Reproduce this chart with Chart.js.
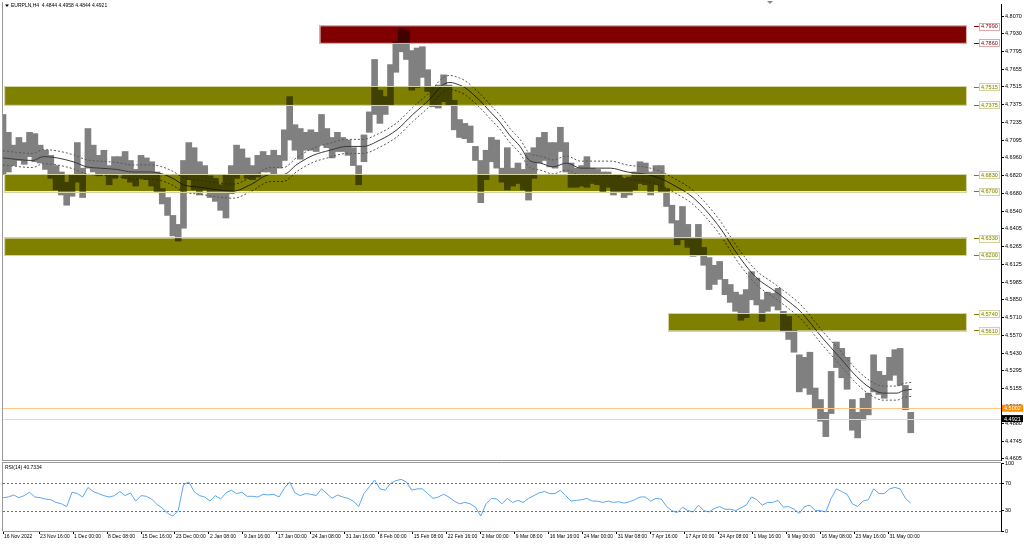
<!DOCTYPE html>
<html>
<head>
<meta charset="utf-8">
<script src="https://cdn.jsdelivr.net/npm/chart.js@4.4.0/dist/chart.umd.min.js"></script>
<style>
  html, body { margin: 0; padding: 0; background: #fff; }
  #wrap { position: relative; width: 1024px; height: 544px; overflow: hidden; background: #fff; }
  #wrap canvas { position: absolute; left: 0; }
  #price { top: 0; }
  #rsi { top: 456px; }
</style>
</head>
<body>
<div id="wrap">
  <canvas id="price" width="1024" height="462"></canvas>
  <canvas id="rsi" width="1024" height="88"></canvas>
</div>
<script>
// EURPLN H4 - price columns are 5 bars wide (bar index = column * BIN)
const BIN = 5;
const X_MAX = 940;

const priceHigh = [
  4.730, 4.716, 4.706, 4.712, 4.708, 4.716, 4.715, 4.706, 4.702, 4.698,
  4.690, 4.685, 4.677, 4.683, 4.708, 4.688, 4.719, 4.706, 4.698, 4.702,
  4.690, 4.697, 4.697, 4.701, 4.694, 4.687, 4.698, 4.696, 4.693, 4.685,
  4.672, 4.665, 4.651, 4.644, 4.694, 4.708, 4.704, 4.693, 4.690, 4.682,
  4.680, 4.675, 4.683, 4.690, 4.706, 4.703, 4.696, 4.690, 4.698, 4.701,
  4.698, 4.702, 4.698, 4.718, 4.744, 4.722, 4.719, 4.716, 4.718, 4.716,
  4.730, 4.719, 4.712, 4.716, 4.712, 4.710, 4.704, 4.690, 4.714, 4.732,
  4.773, 4.749, 4.744, 4.769, 4.787, 4.797, 4.796, 4.780, 4.782, 4.783,
  4.765, 4.752, 4.753, 4.761, 4.753, 4.741, 4.726, 4.723, 4.721, 4.705,
  4.694, 4.702, 4.712, 4.710, 4.688, 4.704, 4.688, 4.692, 4.687, 4.700,
  4.704, 4.712, 4.716, 4.708, 4.708, 4.720, 4.708, 4.692, 4.688, 4.690,
  4.697, 4.688, 4.687, 4.685, 4.685, 4.683, 4.683, 4.680, 4.681, 4.685,
  4.693, 4.692, 4.685, 4.690, 4.690, 4.672, 4.659, 4.647, 4.658, 4.644,
  4.633, 4.644, 4.626, 4.618, 4.612, 4.615, 4.601, 4.597, 4.591, 4.589,
  4.593, 4.607, 4.602, 4.585, 4.591, 4.590, 4.594, 4.576, 4.572, 4.561,
  4.542, 4.540, 4.544, 4.516, 4.507, 4.497, 4.529, 4.552, 4.547, 4.540,
  4.507, 4.497, 4.508, 4.512, 4.542, 4.529, 4.526, 4.540, 4.546, 4.547,
  4.518, 4.497
];
const priceLow = [
  4.683, 4.685, 4.690, 4.694, 4.691, 4.697, 4.693, 4.692, 4.687, 4.680,
  4.671, 4.667, 4.659, 4.666, 4.677, 4.665, 4.688, 4.685, 4.682, 4.683,
  4.675, 4.680, 4.683, 4.680, 4.677, 4.674, 4.680, 4.679, 4.674, 4.669,
  4.660, 4.651, 4.635, 4.631, 4.641, 4.679, 4.671, 4.667, 4.671, 4.665,
  4.662, 4.655, 4.649, 4.668, 4.680, 4.683, 4.680, 4.679, 4.681, 4.685,
  4.685, 4.683, 4.688, 4.694, 4.710, 4.702, 4.695, 4.702, 4.702, 4.701,
  4.706, 4.704, 4.696, 4.701, 4.701, 4.698, 4.690, 4.675, 4.693, 4.716,
  4.730, 4.723, 4.730, 4.737, 4.763, 4.779, 4.773, 4.749, 4.751, 4.759,
  4.748, 4.736, 4.735, 4.740, 4.737, 4.718, 4.712, 4.711, 4.708, 4.694,
  4.661, 4.679, 4.693, 4.688, 4.677, 4.671, 4.674, 4.676, 4.671, 4.663,
  4.680, 4.692, 4.694, 4.689, 4.688, 4.701, 4.685, 4.673, 4.673, 4.674,
  4.673, 4.676, 4.675, 4.669, 4.673, 4.667, 4.669, 4.665, 4.667, 4.671,
  4.676, 4.675, 4.667, 4.675, 4.669, 4.658, 4.645, 4.628, 4.632, 4.626,
  4.619, 4.620, 4.612, 4.593, 4.597, 4.601, 4.589, 4.583, 4.576, 4.569,
  4.571, 4.585, 4.581, 4.568, 4.576, 4.580, 4.577, 4.560, 4.554, 4.544,
  4.513, 4.516, 4.511, 4.500, 4.490, 4.478, 4.496, 4.532, 4.524, 4.515,
  4.483, 4.477, 4.491, 4.495, 4.513, 4.511, 4.508, 4.522, 4.526, 4.518,
  4.499, 4.481
];

// moving average with its envelope band
const maBars = [
  0, 28, 38, 51, 66, 79, 91, 107, 122, 138, 148, 160, 170, 186, 202, 217, 233, 252, 264, 277,
  292, 308, 324, 339, 355, 371, 386, 402, 414, 421, 430, 435, 449, 459, 468, 477, 487, 496, 506, 518,
  531, 544, 572, 588, 607, 619, 631, 650, 673, 694, 710, 725, 741, 751, 772, 788, 804, 817, 829, 842,
  848, 856
];
const maValues = [
  4.696, 4.694, 4.697, 4.696, 4.693, 4.689, 4.688, 4.687, 4.685, 4.685, 4.684, 4.680, 4.675, 4.673, 4.671, 4.670, 4.675, 4.683, 4.683, 4.691,
  4.698, 4.702, 4.705, 4.705, 4.710, 4.718, 4.730, 4.742, 4.753, 4.755, 4.753, 4.751, 4.741, 4.732, 4.724, 4.714, 4.705, 4.694, 4.692, 4.689,
  4.692, 4.688, 4.688, 4.685, 4.683, 4.680, 4.675, 4.665, 4.644, 4.618, 4.602, 4.593, 4.583, 4.576, 4.555, 4.540, 4.525, 4.516, 4.512, 4.512,
  4.514, 4.515
];
const envUpper = [
  4.7015, 4.6995, 4.7025, 4.7015, 4.6985, 4.6945, 4.6935, 4.6925, 4.6905, 4.6905, 4.6895, 4.6855, 4.6805, 4.6785, 4.6765, 4.6755, 4.6805, 4.6885, 4.6885, 4.6965,
  4.7035, 4.7075, 4.7105, 4.7105, 4.7155, 4.7235, 4.7355, 4.7475, 4.7585, 4.7605, 4.7585, 4.7565, 4.7465, 4.7375, 4.7295, 4.7195, 4.7105, 4.6995, 4.6975, 4.6945,
  4.6975, 4.6935, 4.6935, 4.6905, 4.6885, 4.6855, 4.6805, 4.6705, 4.6495, 4.6235, 4.6075, 4.5985, 4.5885, 4.5815, 4.5605, 4.5455, 4.5305, 4.5215, 4.5175, 4.5175,
  4.5195, 4.5205
];
const envLower = [
  4.6905, 4.6885, 4.6915, 4.6905, 4.6875, 4.6835, 4.6825, 4.6815, 4.6795, 4.6795, 4.6785, 4.6745, 4.6695, 4.6675, 4.6655, 4.6645, 4.6695, 4.6775, 4.6775, 4.6855,
  4.6925, 4.6965, 4.6995, 4.6995, 4.7045, 4.7125, 4.7245, 4.7365, 4.7475, 4.7495, 4.7475, 4.7455, 4.7355, 4.7265, 4.7185, 4.7085, 4.6995, 4.6885, 4.6865, 4.6835,
  4.6865, 4.6825, 4.6825, 4.6795, 4.6775, 4.6745, 4.6695, 4.6595, 4.6385, 4.6125, 4.5965, 4.5875, 4.5775, 4.5705, 4.5495, 4.5345, 4.5195, 4.5105, 4.5065, 4.5065,
  4.5085, 4.5095
];

// RSI(14), one value per price column
const rsiValues = [
  49, 50, 53, 49, 52, 57, 50, 49, 47, 46, 42, 40, 36, 57, 55, 50, 64, 58, 55, 52,
  50, 52, 58, 52, 56, 44, 52, 51, 47, 39, 34, 26, 22, 30, 68, 72, 58, 52, 50, 44,
  52, 47, 56, 60, 55, 57, 51, 51, 50, 54, 53, 54, 50, 63, 72, 56, 52, 55, 54, 52,
  62, 55, 48, 53, 50, 48, 44, 36, 55, 65, 75, 62, 60, 70, 74, 76, 72, 60, 62, 62,
  55, 48, 50, 54, 50, 44, 40, 42, 40, 35, 22, 40, 48, 47, 40, 48, 42, 45, 42, 48,
  52, 56, 58, 55, 55, 60, 52, 44, 45, 46, 48, 44, 44, 42, 44, 42, 43, 41, 43, 46,
  50, 50, 44, 48, 47, 36, 30, 27, 35, 30, 28, 38, 30, 28, 33, 36, 32, 32, 30, 34,
  38, 50, 46, 38, 42, 42, 45, 35, 36, 32, 26, 36, 38, 30, 30, 28, 48, 62, 58, 54,
  40, 36, 44, 46, 62, 55, 55, 62, 64, 62, 48, 41
];
const rsiLast = 40.7334;

// support / resistance rectangles (prices, bar indices)
const zoneTop    = [4.7990, 4.7515, 4.6830, 4.6330, 4.5740];
const zoneBottom = [4.7860, 4.7375, 4.6700, 4.6200, 4.5610];
const zoneFrom   = [299, 2, 2, 2, 627];
const zoneTo     = [907, 907, 907, 907, 907];
const zoneKind   = ['red', 'olive', 'olive', 'olive', 'olive'];

const levelPrice = 4.5002;   // horizontal line
const bidPrice = 4.4921;     // last price
const lastBar = [4.4844, 4.4958, 4.4844, 4.4921];

const PRICE_MIN = 4.4597, PRICE_MAX = 4.8164;
const priceTicks = [4.8070, 4.7930, 4.7795, 4.7655, 4.7515, 4.7375, 4.7235, 4.7095, 4.6960, 4.6820,
  4.6680, 4.6540, 4.6405, 4.6265, 4.6125, 4.5985, 4.5850, 4.5710, 4.5570, 4.5430,
  4.5295, 4.5155, 4.5015, 4.4880, 4.4745, 4.4605];
const rsiTicks = [0, 30, 70, 100];
const rsiLevels = [30, 70];
const timeTickBars = [0, 34, 66, 98, 130, 162, 194, 226, 258, 290, 322, 354, 386, 418,
  450, 482, 514, 546, 578, 610, 642, 674, 706, 738, 770, 802, 834];
const timeTickLabels = ['16 Nov 2022', '23 Nov 16:00', '1 Dec 00:00', '8 Dec 08:00', '15 Dec 16:00',
  '23 Dec 00:00', '2 Jan 08:00', '9 Jan 16:00', '17 Jan 00:00', '24 Jan 08:00', '31 Jan 16:00',
  '8 Feb 00:00', '15 Feb 08:00', '22 Feb 16:00', '2 Mar 00:00', '9 Mar 08:00', '16 Mar 16:00',
  '24 Mar 00:00', '31 Mar 08:00', '7 Apr 16:00', '17 Apr 00:00', '24 Apr 08:00', '1 May 16:00',
  '9 May 00:00', '16 May 08:00', '23 May 16:00', '31 May 00:00'];

Chart.defaults.font.family = '"Liberation Sans", Arial, sans-serif';
Chart.defaults.color = '#000';

const FONT = '"Liberation Sans", Arial, sans-serif';
const zoneStyle = {
  red:   { fill: '#800000', edge: '#e0a8a8', text: '#800000', box: '#ffffff' },
  olive: { fill: '#808000', edge: '#d4d4a0', text: '#808000', box: '#fbfbee' }
};

const bars = priceHigh.map((h, i) => ({ x: i * BIN, y: [priceLow[i], h] }));
const toPoints = vals => vals.map((v, i) => ({ x: maBars[i], y: v }));
const rsiPoints = rsiValues.map((v, i) => ({ x: i * BIN, y: v }));

function fitRightAxis(s) { s.width = 23; s.paddingTop = 0; s.paddingBottom = 0; }

function valueBox(ctx, x, y, text, bg, fg, edge) {
  ctx.font = '5.5px ' + FONT;
  ctx.fillStyle = bg;
  ctx.fillRect(x, y - 3.5, 21, 7);
  if (edge) { ctx.strokeStyle = edge; ctx.lineWidth = 1; ctx.strokeRect(x + 0.5, Math.round(y - 3.5) + 0.5, 20, 7); }
  ctx.fillStyle = fg;
  ctx.textAlign = 'left';
  ctx.textBaseline = 'middle';
  ctx.fillText(text, x + 2, y + 0.5);
}

const pricePlugin = {
  id: 'priceOverlay',
  afterDatasetsDraw(chart) {
    const { ctx, chartArea: a, scales: { x, y } } = chart;
    ctx.save();
    ctx.beginPath();
    ctx.rect(a.left, a.top, a.right - a.left, a.bottom - a.top);
    ctx.clip();
    // filled rectangles blend with the bars beneath
    ctx.globalCompositeOperation = 'multiply';
    zoneTop.forEach((t, i) => {
      const x0 = x.getPixelForValue(zoneFrom[i]), x1 = x.getPixelForValue(zoneTo[i]);
      const y0 = y.getPixelForValue(t), y1 = y.getPixelForValue(zoneBottom[i]);
      ctx.fillStyle = zoneStyle[zoneKind[i]].fill;
      ctx.fillRect(x0, y0, x1 - x0, y1 - y0);
    });
    ctx.globalCompositeOperation = 'source-over';
    zoneTop.forEach((t, i) => {
      const x0 = x.getPixelForValue(zoneFrom[i]), x1 = x.getPixelForValue(zoneTo[i]);
      const y0 = y.getPixelForValue(t), y1 = y.getPixelForValue(zoneBottom[i]);
      ctx.strokeStyle = zoneStyle[zoneKind[i]].edge;
      ctx.lineWidth = 1;
      ctx.strokeRect(Math.round(x0) - 0.5, Math.round(y0) - 0.5, Math.round(x1 - x0) + 1, Math.round(y1 - y0) + 1);
    });
    // horizontal line and last price line
    const yl = Math.round(y.getPixelForValue(levelPrice)) + 0.5;
    ctx.strokeStyle = '#ffc488';
    ctx.beginPath(); ctx.moveTo(a.left, yl); ctx.lineTo(a.right, yl); ctx.stroke();
    const yb = Math.round(y.getPixelForValue(bidPrice)) + 0.5;
    ctx.strokeStyle = '#dcdcdc';
    ctx.beginPath(); ctx.moveTo(a.left, yb); ctx.lineTo(a.right, yb); ctx.stroke();
    ctx.restore();
  },
  afterDraw(chart) {
    const { ctx, chartArea: a, scales: { x, y } } = chart;
    ctx.save();
    // price tags at the right end of each rectangle
    zoneTop.forEach((t, i) => {
      const st = zoneStyle[zoneKind[i]];
      const x1 = x.getPixelForValue(zoneTo[i]);
      [t, zoneBottom[i]].forEach(v => {
        const yy = y.getPixelForValue(v);
        ctx.strokeStyle = st.text;
        ctx.lineWidth = 1;
        ctx.beginPath(); ctx.moveTo(x1 + 8, Math.round(yy) + 0.5); ctx.lineTo(x1 + 13, Math.round(yy) + 0.5); ctx.stroke();
        valueBox(ctx, x1 + 13, yy, v.toFixed(4), st.box, st.text, st.edge);
      });
    });
    // tags on the price scale
    valueBox(ctx, a.right + 1, y.getPixelForValue(levelPrice), levelPrice.toFixed(4), '#ff8c00', '#fff');
    valueBox(ctx, a.right + 1, y.getPixelForValue(bidPrice), bidPrice.toFixed(4), '#000', '#fff');
    // pane frame
    ctx.strokeStyle = '#9a9a9a';
    ctx.lineWidth = 1;
    ctx.beginPath();
    ctx.moveTo(2.5, 2); ctx.lineTo(2.5, a.bottom + 1);
    ctx.moveTo(2, a.bottom + 0.5); ctx.lineTo(a.right, a.bottom + 0.5);
    ctx.stroke();
    // symbol header
    ctx.fillStyle = '#000';
    ctx.beginPath(); ctx.moveTo(5, 4.5); ctx.lineTo(9, 4.5); ctx.lineTo(7, 7); ctx.closePath(); ctx.fill();
    ctx.font = '5px ' + FONT;
    ctx.textAlign = 'left';
    ctx.textBaseline = 'middle';
    ctx.fillText('EURPLN,H4  ' + lastBar.map(v => v.toFixed(4)).join(' '), 11, 6);
    // chart shift marker
    ctx.fillStyle = '#8c8c8c';
    ctx.beginPath(); ctx.moveTo(767, 1); ctx.lineTo(773, 1); ctx.lineTo(770, 4); ctx.closePath(); ctx.fill();
    ctx.restore();
  }
};

new Chart(document.getElementById('price'), {
  type: 'bar',
  data: {
    datasets: [
      { type: 'line', data: toPoints(maValues), borderColor: '#3a3a3a', borderWidth: 1, pointRadius: 0, cubicInterpolationMode: 'monotone' },
      { type: 'line', data: toPoints(envUpper), borderColor: '#5a5a5a', borderWidth: 1, borderDash: [2, 2], pointRadius: 0, cubicInterpolationMode: 'monotone' },
      { type: 'line', data: toPoints(envLower), borderColor: '#5a5a5a', borderWidth: 1, borderDash: [2, 2], pointRadius: 0, cubicInterpolationMode: 'monotone' },
      { type: 'bar', data: bars, backgroundColor: '#808080', borderWidth: 0, barThickness: 6, grouped: false }
    ]
  },
  options: {
    responsive: false,
    animation: false,
    events: [],
    layout: { padding: { left: 3, top: 4, right: 0, bottom: 2 } },
    plugins: { legend: { display: false }, tooltip: { enabled: false } },
    scales: {
      x: { type: 'linear', min: 0, max: X_MAX, display: false, offset: false },
      y: {
        type: 'linear', position: 'right', min: PRICE_MIN, max: PRICE_MAX,
        afterBuildTicks: s => { s.ticks = priceTicks.map(v => ({ value: v })); },
        afterFit: fitRightAxis,
        grid: { drawOnChartArea: false, tickLength: 3, tickColor: '#000' },
        border: { display: true, color: '#000' },
        ticks: { font: { size: 5.5 }, color: '#000', padding: 1, callback: v => v.toFixed(4) }
      }
    }
  },
  plugins: [pricePlugin]
});

const rsiPlugin = {
  id: 'rsiOverlay',
  afterDatasetsDraw(chart) {
    const { ctx, chartArea: a, scales: { y } } = chart;
    ctx.save();
    ctx.strokeStyle = '#707070';
    ctx.lineWidth = 1;
    ctx.setLineDash([2, 2]);
    rsiLevels.forEach(v => {
      const yy = Math.round(y.getPixelForValue(v)) + 0.5;
      ctx.beginPath(); ctx.moveTo(a.left, yy); ctx.lineTo(a.right, yy); ctx.stroke();
    });
    ctx.restore();
  },
  afterDraw(chart) {
    const { ctx, chartArea: a } = chart;
    ctx.save();
    ctx.strokeStyle = '#9a9a9a';
    ctx.lineWidth = 1;
    ctx.beginPath();
    ctx.moveTo(2, a.top - 0.5); ctx.lineTo(a.right, a.top - 0.5);
    ctx.moveTo(2.5, a.top - 1); ctx.lineTo(2.5, a.bottom);
    ctx.stroke();
    ctx.fillStyle = '#000';
    ctx.font = '5px ' + FONT;
    ctx.textAlign = 'left';
    ctx.textBaseline = 'middle';
    ctx.fillText('RSI(14) ' + rsiLast.toFixed(4), 5, a.top + 5);
    ctx.restore();
  }
};

new Chart(document.getElementById('rsi'), {
  type: 'line',
  data: {
    datasets: [
      { data: rsiPoints, borderColor: '#5aa7f2', borderWidth: 1, pointRadius: 0, tension: 0 }
    ]
  },
  options: {
    responsive: false,
    animation: false,
    events: [],
    layout: { padding: { left: 3, top: 7, right: 0, bottom: 0 } },
    plugins: { legend: { display: false }, tooltip: { enabled: false } },
    scales: {
      x: {
        type: 'linear', min: 0, max: X_MAX, position: 'bottom', offset: false,
        afterBuildTicks: s => { s.ticks = timeTickBars.map(v => ({ value: v })); },
        afterFit: s => { s.height = 13; s.paddingLeft = 0; s.paddingRight = 0; },
        grid: { drawOnChartArea: false, tickLength: 3, tickColor: '#000' },
        border: { display: true, color: '#9a9a9a' },
        ticks: { autoSkip: false, maxRotation: 0, align: 'start', labelOffset: 1, padding: 0,
                 font: { size: 5 }, color: '#000', callback: (v, i) => timeTickLabels[i] }
      },
      y: {
        type: 'linear', position: 'right', min: 0, max: 100,
        afterBuildTicks: s => { s.ticks = rsiTicks.map(v => ({ value: v })); },
        afterFit: fitRightAxis,
        grid: { drawOnChartArea: false, tickLength: 3, tickColor: '#000' },
        border: { display: true, color: '#000' },
        ticks: { font: { size: 5.5 }, color: '#000', padding: 1, callback: v => String(v) }
      }
    }
  },
  plugins: [rsiPlugin]
});
</script>
</body>
</html>
